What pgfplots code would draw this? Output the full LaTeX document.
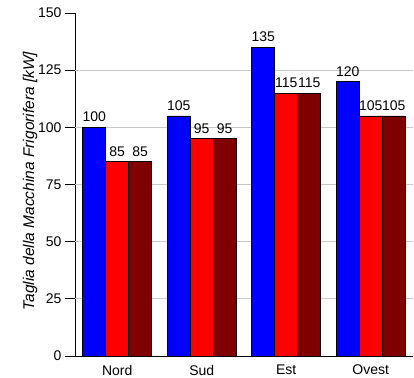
\documentclass[border=0pt]{standalone}
\usepackage{pgfplots}
\pgfplotsset{compat=1.18}
\usepackage{fontspec}
\setmainfont{Liberation Sans}
\definecolor{cBlue}{RGB}{0,0,255}
\definecolor{cRed}{RGB}{255,0,0}
\definecolor{cDark}{RGB}{128,0,0}
\definecolor{cGrid}{RGB}{200,200,200}
\begin{document}
\begin{tikzpicture}
\path[use as bounding box] (-75bp,-22bp) rectangle (339bp,356bp);
\begin{axis}[
  at={(0,0)}, anchor=south west,
  scale only axis, width=338bp, height=343bp,
  font=\fontsize{14bp}{16bp}\selectfont,
  /pgf/number format/assume math mode=true,
  ybar,
  bar width=0.272,
  xmin=-0.5, xmax=3.5,
  ymin=0, ymax=150,
  axis x line*=bottom, axis y line*=left,
  axis line style={-, black, line width=0.8bp},
  xtick={0,1,2,3},
  xticklabels={Nord,Sud,Est,Ovest},
  xtick style={draw=none},
  xticklabel style={yshift=4.5bp},
  minor xtick={-0.5,0.5,1.5,2.5,3.5},
  minor tick length=4bp,
  minor x tick style={black, line width=0.8bp},
  ytick={0,25,...,150},
  tick align=outside,
  major tick length=10bp,
  y tick style={black, line width=0.8bp},
  extra y ticks={25,50,75,100,125},
  extra y tick labels={},
  extra y tick style={ymajorgrids=true, major tick length=0pt},
  major grid style={cGrid, line width=0.8bp},
  yticklabel style={anchor=east},
  ylabel={\fontsize{15.5bp}{17bp}\selectfont\itshape Taglia della Macchina Frigorifera [kW]},
  every axis y label/.style={at={(axis description cs:-0.133,0.51)}, rotate=90, anchor=center},
  nodes near coords,
  every node near coord/.append style={font=\fontsize{14bp}{16bp}\selectfont, anchor=base, inner sep=0pt, yshift=5.5bp},
  clip=false,
]
\addplot[draw=black, line width=0.6bp, fill=cBlue, bar shift=-0.272] coordinates {(0,100) (1,105) (2,135) (3,120)};
\addplot[draw=black, line width=0.6bp, fill=cRed, bar shift=0] coordinates {(0,85) (1,95) (2,115) (3,105)};
\addplot[draw=black, line width=0.6bp, fill=cDark, bar shift=0.272] coordinates {(0,85) (1,95) (2,115) (3,105)};
\end{axis}
\end{tikzpicture}
\end{document}
